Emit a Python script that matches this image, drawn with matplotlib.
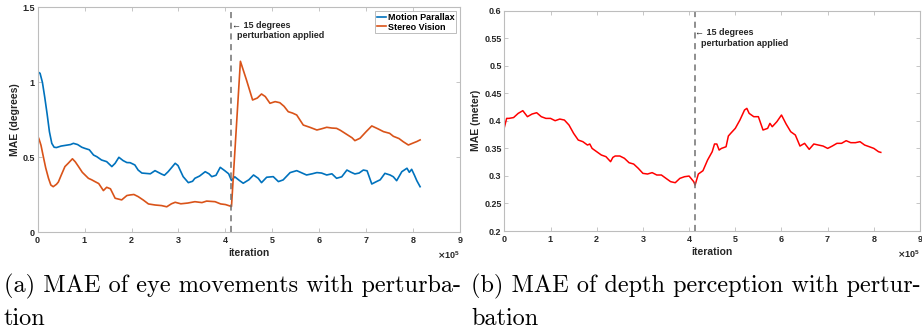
import matplotlib
matplotlib.use("Agg")
import matplotlib.pyplot as plt
from matplotlib.ticker import ScalarFormatter, MultipleLocator

# ---------------- data (iterations in units of 1e5) ----------------
mp_x = [0, 0.05, 0.1, 0.15, 0.2, 0.25, 0.3, 0.35, 0.4, 0.5, 0.6, 0.7, 0.76, 0.85, 0.94, 1.0,
        1.1, 1.19, 1.26, 1.36, 1.47, 1.58, 1.65, 1.73, 1.82, 1.9, 1.97, 2.07, 2.14, 2.22, 2.29,
        2.4, 2.5, 2.64, 2.7, 2.78, 2.85, 2.93, 2.99, 3.1, 3.21, 3.3, 3.35, 3.45, 3.57, 3.65,
        3.71, 3.8, 3.89, 3.99, 4.07, 4.13, 4.2, 4.3, 4.38, 4.5, 4.6, 4.7, 4.77, 4.88, 5.02,
        5.13, 5.23, 5.38, 5.52, 5.6, 5.73, 5.85, 5.95, 6.05, 6.16, 6.27, 6.37, 6.48, 6.59,
        6.68, 6.76, 6.85, 6.94, 7.02, 7.12, 7.22, 7.3, 7.4, 7.51, 7.58, 7.65, 7.76, 7.87,
        7.92, 7.97, 8.03, 8.08, 8.15]
mp_y = [1.07, 1.06, 1.00, 0.90, 0.79, 0.67, 0.593, 0.567, 0.565, 0.575, 0.58, 0.585, 0.593,
        0.585, 0.567, 0.56, 0.55, 0.515, 0.504, 0.482, 0.471, 0.438, 0.46, 0.50, 0.478, 0.465,
        0.464, 0.449, 0.415, 0.395, 0.393, 0.39, 0.411, 0.388, 0.38, 0.404, 0.43, 0.46, 0.445,
        0.371, 0.331, 0.34, 0.36, 0.375, 0.404, 0.39, 0.371, 0.38, 0.433, 0.41, 0.39, 0.345,
        0.37, 0.345, 0.327, 0.35, 0.382, 0.36, 0.331, 0.367, 0.371, 0.338, 0.349, 0.398, 0.411,
        0.40, 0.382, 0.39, 0.398, 0.395, 0.382, 0.39, 0.36, 0.37, 0.415, 0.40, 0.389, 0.395,
        0.415, 0.41, 0.322, 0.338, 0.35, 0.393, 0.382, 0.37, 0.344, 0.404, 0.427, 0.40, 0.42,
        0.38, 0.344, 0.304]

sv_x = [0, 0.03, 0.07, 0.12, 0.17, 0.23, 0.28, 0.33, 0.4, 0.44, 0.5, 0.58, 0.65, 0.74, 0.8,
        0.87, 0.95, 1.08, 1.15, 1.22, 1.3, 1.4, 1.47, 1.55, 1.65, 1.79, 1.9, 1.97, 2.05, 2.14,
        2.25, 2.36, 2.5, 2.64, 2.75, 2.85, 2.93, 3.05, 3.2, 3.35, 3.5, 3.6, 3.78, 3.9, 4.0,
        4.1, 4.13, 4.32, 4.45, 4.58, 4.68, 4.77, 4.85, 4.95, 5.06, 5.16, 5.25, 5.34, 5.43,
        5.52, 5.66, 5.8, 5.95, 6.05, 6.16, 6.27, 6.37, 6.45, 6.55, 6.7, 6.76, 6.87, 7.0, 7.12,
        7.25, 7.37, 7.5, 7.58, 7.7, 7.79, 7.9, 8.0, 8.08, 8.15]
sv_y = [0.642, 0.62, 0.58, 0.504, 0.43, 0.36, 0.315, 0.304, 0.32, 0.335, 0.38, 0.438, 0.46,
        0.49, 0.47, 0.438, 0.40, 0.36, 0.35, 0.338, 0.325, 0.278, 0.30, 0.29, 0.227, 0.216,
        0.245, 0.249, 0.252, 0.238, 0.215, 0.189, 0.182, 0.178, 0.17, 0.19, 0.2, 0.19, 0.195,
        0.204, 0.198, 0.208, 0.204, 0.189, 0.185, 0.175, 0.172, 1.14, 1.015, 0.882, 0.895,
        0.922, 0.905, 0.86, 0.871, 0.864, 0.84, 0.804, 0.795, 0.782, 0.715, 0.7, 0.682, 0.69,
        0.70, 0.695, 0.693, 0.68, 0.66, 0.63, 0.611, 0.627, 0.671, 0.709, 0.69, 0.671, 0.66,
        0.64, 0.625, 0.604, 0.582, 0.595, 0.605, 0.616]

dp_x = [0, 0.05, 0.1, 0.2, 0.3, 0.4, 0.5, 0.6, 0.7, 0.8, 0.9, 1.0, 1.1, 1.2, 1.3, 1.4, 1.5,
        1.6, 1.7, 1.8, 1.85, 1.9, 2.0, 2.1, 2.2, 2.3, 2.35, 2.4, 2.5, 2.6, 2.7, 2.8, 2.9, 3.0,
        3.1, 3.2, 3.3, 3.4, 3.5, 3.6, 3.7, 3.8, 3.9, 4.0, 4.1, 4.13, 4.2, 4.3, 4.4, 4.5, 4.55,
        4.6, 4.65, 4.7, 4.8, 4.85, 4.9, 5.0, 5.1, 5.2, 5.25, 5.3, 5.4, 5.5, 5.6, 5.7, 5.75,
        5.8, 5.9, 6.0, 6.1, 6.2, 6.3, 6.4, 6.5, 6.6, 6.7, 6.8, 6.9, 7.0, 7.1, 7.2, 7.3, 7.4,
        7.5, 7.6, 7.7, 7.8, 7.9, 8.0, 8.1, 8.15]
dp_y = [0.388, 0.4045, 0.4045, 0.406, 0.4136, 0.4185, 0.4076, 0.4124, 0.4148, 0.4076, 0.4045,
        0.4045, 0.4003, 0.4033, 0.4015, 0.3924, 0.3773, 0.3652, 0.3622, 0.3561, 0.358, 0.350,
        0.344, 0.338, 0.335, 0.3259, 0.3337, 0.3362, 0.3362, 0.332, 0.324, 0.3216, 0.3138,
        0.3047, 0.3035, 0.306, 0.3017, 0.3017, 0.2956, 0.2896, 0.2877, 0.2956, 0.2986, 0.2998,
        0.2896, 0.2835, 0.3035, 0.3095, 0.3289, 0.344, 0.358, 0.358, 0.347, 0.350, 0.353,
        0.3725, 0.3773, 0.3864, 0.4015, 0.4197, 0.4227, 0.4136, 0.4076, 0.4076, 0.3834,
        0.3864, 0.3955, 0.3894, 0.3985, 0.4106, 0.3943, 0.3803, 0.3743, 0.3543, 0.3592,
        0.3483, 0.358, 0.3561, 0.3543, 0.350, 0.3543, 0.3592, 0.3592, 0.364, 0.3604, 0.3604,
        0.3622, 0.3561, 0.3531, 0.350, 0.344, 0.3428]

perturb_at = 4.13  # x 1e5
scale = 1e5

# ---------------- style ----------------
plt.rcParams['font.family'] = ['Liberation Sans', 'DejaVu Sans']
plt.rcParams['font.weight'] = 'bold'
TICKC = '#262626'
SPINEC = '#bdbdbd'
BLUE = '#0072BD'
ORANGE = '#D95319'
RED = '#FF0000'
FS = 6.5

fig = plt.figure(figsize=(9.22, 3.35), dpi=100)
axL = fig.add_axes([0.0409, 0.3066, 0.458, 0.6716])
axR = fig.add_axes([0.547, 0.3104, 0.4509, 0.6576])


def style(ax):
    for s in ax.spines.values():
        s.set_color(SPINEC)
        s.set_linewidth(0.8)
    ax.tick_params(direction='in', top=True, right=True, length=3, width=0.6,
                   color=SPINEC, labelcolor=TICKC, labelsize=FS, pad=2)
    for lab in ax.get_xticklabels() + ax.get_yticklabels():
        lab.set_fontweight('bold')
    ax.set_xlim(0, 9 * scale)
    ax.xaxis.set_major_locator(MultipleLocator(1 * scale))
    fmt = ScalarFormatter(useMathText=True)
    fmt.set_powerlimits((0, 0))
    ax.xaxis.set_major_formatter(fmt)
    ot = ax.xaxis.get_offset_text()
    ot.set_fontsize(FS)
    ot.set_color(TICKC)
    ax.set_xlabel('iteration', fontsize=7.5, fontweight='bold', color=TICKC, labelpad=2)


# left plot
axL.plot([v * scale for v in mp_x], mp_y, color=BLUE, lw=1.2, label='Motion Parallax')
axL.plot([v * scale for v in sv_x], sv_y, color=ORANGE, lw=1.2, label='Stereo Vision')
axL.axvline(perturb_at * scale, color='#707070', lw=1.1, ls=(0, (4, 3)))
axL.set_ylim(0, 1.5)
axL.set_yticks([0, 0.5, 1, 1.5])
axL.set_yticklabels(['0', '0.5', '1', '1.5'])
style(axL)
axL.set_ylabel('MAE (degrees)', fontsize=7.5, fontweight='bold', color=TICKC, labelpad=2)
axL.text(4.15 * scale, 1.382, '\u2190 15 degrees', fontsize=FS, fontweight='bold',
         color=TICKC, va='center', ha='left')
axL.text(4.24 * scale, 1.309, 'perturbation applied', fontsize=FS, fontweight='bold',
         color=TICKC, va='center', ha='left')
leg = axL.legend(loc='upper right', fontsize=FS, frameon=True, fancybox=False,
                 handlelength=1.0, handletextpad=0.2, borderpad=0.2, labelspacing=0.1,
                 borderaxespad=0.4, prop={'weight': 'bold', 'size': FS})
leg.get_frame().set_edgecolor('#a0a0a0')
leg.get_frame().set_linewidth(0.6)

# right plot
axR.plot([v * scale for v in dp_x], dp_y, color=RED, lw=1.1)
axR.axvline(perturb_at * scale, color='#707070', lw=1.1, ls=(0, (4, 3)))
axR.set_ylim(0.2, 0.6)
yt = [0.2, 0.25, 0.3, 0.35, 0.4, 0.45, 0.5, 0.55, 0.6]
axR.set_yticks(yt)
axR.set_yticklabels(['0.2', '0.25', '0.3', '0.35', '0.4', '0.45', '0.5', '0.55', '0.6'])
style(axR)
axR.set_ylabel('MAE (meter)', fontsize=7.5, fontweight='bold', color=TICKC, labelpad=2)
axR.text(4.13 * scale, 0.5607, '\u2190 15 degrees', fontsize=FS, fontweight='bold',
         color=TICKC, va='center', ha='left')
axR.text(4.25 * scale, 0.5407, 'perturbation applied', fontsize=FS, fontweight='bold',
         color=TICKC, va='center', ha='left')

# captions
CAPFS = 17.5
fig.text(4 / 922, 1 - 292 / 335, '(a) MAE of eye movements with perturba-',
         family='cmr10', fontsize=CAPFS, fontweight='normal', va='baseline', ha='left')
fig.text(4 / 922, 1 - 325 / 335, 'tion',
         family='cmr10', fontsize=CAPFS, fontweight='normal', va='baseline', ha='left')
fig.text(471 / 922, 1 - 292 / 335, '(b) MAE of depth perception with pertur-',
         family='cmr10', fontsize=CAPFS, fontweight='normal', va='baseline', ha='left')
fig.text(471 / 922, 1 - 325 / 335, 'bation',
         family='cmr10', fontsize=CAPFS, fontweight='normal', va='baseline', ha='left')

fig.savefig('out.png', dpi=100)
